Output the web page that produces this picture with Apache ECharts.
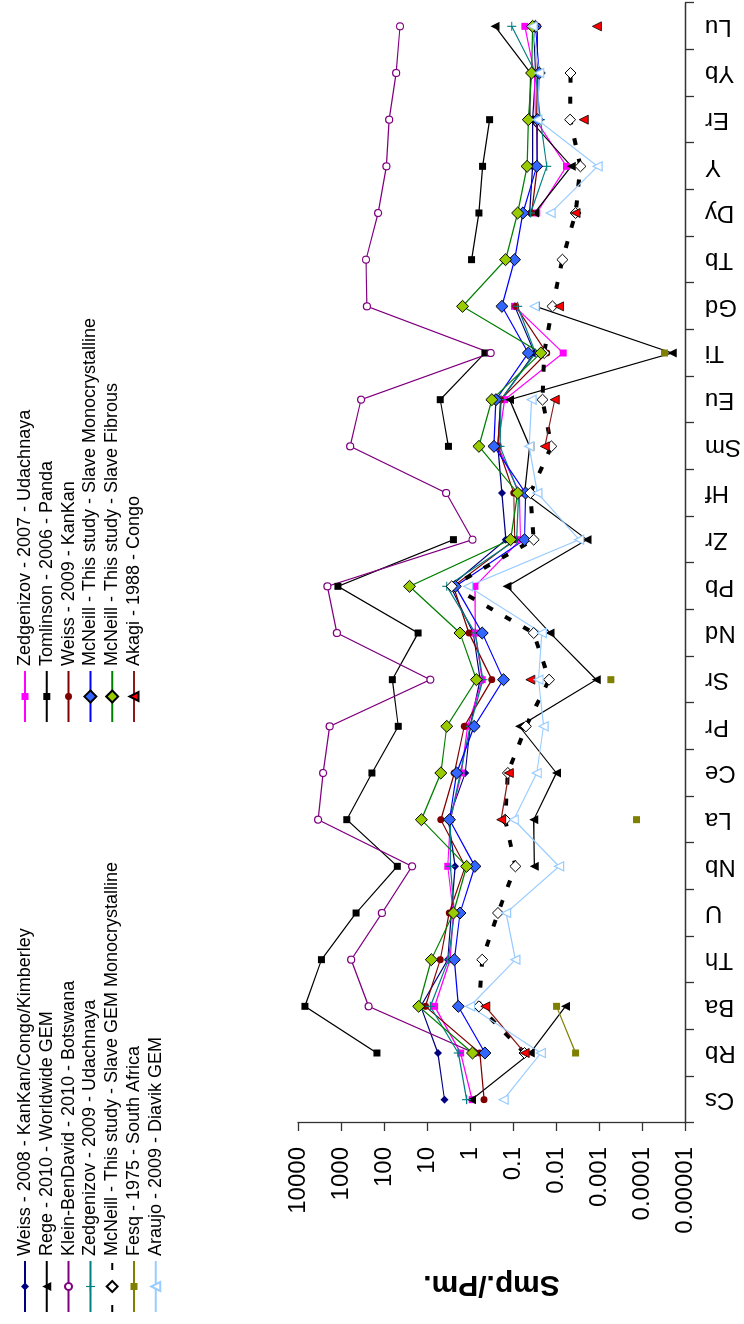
<!DOCTYPE html>
<html>
<head>
<meta charset="utf-8">
<script src="https://cdn.jsdelivr.net/npm/echarts@6/dist/echarts.min.js"></script>
<style>
html,body{margin:0;padding:0;background:#fff;overflow:hidden;width:744px;height:1324px;}
#chart{position:absolute;left:0;top:0;width:1324px;height:744px;transform-origin:0 0;transform:translate(0,1324px) rotate(-90deg);}
</style>
</head>
<body>
<div id="chart"></div>
<script>
const categories = ['Cs','Rb','Ba','Th','U','Nb','La','Ce','Pr','Sr','Nd','Pb','Zr','Hf','Sm','Eu','Ti','Gd','Tb','Dy','Y','Er','Yb','Lu'];
const tickLabels = ['0.00001','0.0001','0.001','0.01','0.1','1','10','100','1000','10000'];

const weiss2008 = [3.92, 5.58, 14.0, 3.29, 2.70, 2.22, 3.17, 1.29, 0.99, 0.58, 0.84, 2.85, 0.147, 0.181, 0.224, 0.191, 0.0315, 0.091, null, 0.041, 0.035, 0.035, 0.030, 0.033];
const rege2010 = [0.92, 0.0395, 0.0060, null, null, 0.032, 0.033, 0.0098, 0.071, 0.00116, 0.0137, 0.137, 0.0019, 0.0535, 0.041, 0.12, 0.0000199, 0.030, null, 0.0315, 0.0044, 0.041, 0.039, 0.262];
const kleinBenDavid2010 = [null, 0.80, 228, 581, 112, 22.2, 3410, 2615, 1834, 8.36, 1245, 2072, 0.875, 3.58, 612, 342, 0.33, 249, 262, 137, 88, 76, 52, 42.5];
const zedgenizov2009 = [1.20, 1.87, 8.36, 3.17, 2.31, 2.85, 2.85, 1.68, 0.99, 0.50, 0.76, 3.47, 0.082, 0.074, 0.20, 0.19, 0.030, 0.078, null, 0.039, 0.0164, 0.023, 0.030, 0.107];
const mcneillGemMono = [null, 0.054, 0.62, 0.52, 0.224, 0.088, 0.152, 0.132, 0.050, 0.0145, 0.033, 2.66, 0.033, 0.0395, 0.0128, 0.0206, 0.0188, 0.0121, 0.0071, 0.0035, 0.0027, 0.0047, 0.0046, null];
const fesq1975 = [null, 0.0035, 0.0097, null, null, null, 0.000134, null, null, 0.00053, null, null, null, null, null, null, 0.0000299, null, null, null, null, null, null, null];
const araujo2009 = [0.166, 0.0225, 1.0, 0.088, 0.144, 0.0085, 0.096, 0.028, 0.0195, 0.0255, 0.0214, 1.10, 0.0029, 0.027, 0.042, 0.037, null, 0.0315, null, 0.0133, 0.00108, 0.027, 0.0245, 0.035];
const zedgenizov2007 = [0.89, 1.65, 6.65, 2.90, 2.43, 3.29, 2.85, 1.59, 1.14, 0.52, 0.75, 0.77, 0.067, 0.071, 0.224, 0.157, 0.0068, 0.092, null, 0.028, 0.0057, 0.030, 0.032, 0.053];
const tomlinson2006 = [null, 146, 6900, 2850, 446, 49, 733, 191, 46.6, 64, 16.1, 1180, 2.43, null, 3.17, 4.92, 0.45, null, 0.92, 0.62, 0.51, 0.35, null, null];
const weiss2009 = [0.47, 0.59, 10.9, 4.92, 3.05, 1.29, 4.77, 2.31, 1.36, 0.31, 1.06, 2.43, 0.091, 0.096, 0.224, 0.194, 0.0164, 0.086, null, 0.037, 0.027, 0.0283, 0.027, 0.027];
const mcneillMono = [null, 0.45, 1.87, 2.31, 1.71, 0.77, 3.0, 2.04, 0.80, 0.166, 0.52, 2.19, 0.054, 0.051, 0.277, 0.249, 0.044, 0.181, 0.092, 0.059, 0.028, 0.027, 0.0245, 0.030];
const mcneillFibrous = [null, 0.875, 15.6, 7.93, 2.43, 1.20, 13.5, 4.77, 3.47, 0.71, 1.71, 25.5, 0.114, 0.078, 0.62, 0.31, 0.0225, 1.49, 0.149, 0.078, 0.047, 0.044, 0.037, 0.035];
const akagi1988 = [null, 0.0535, 0.44, null, null, null, 0.188, 0.125, null, 0.0395, null, null, null, null, 0.0182, 0.0107, null, 0.0085, null, 0.0035, null, 0.00226, null, 0.00112];

const N = {
  w08: 'Weiss - 2008 - KanKan/Congo/Kimberley',
  rege: 'Rege - 2010 - Worldwide GEM',
  klein: 'Klein-BenDavid - 2010 - Botswana',
  z09: 'Zedgenizov - 2009 - Udachnaya',
  gem: 'McNeill - This study - Slave GEM Monocrystalline',
  fesq: 'Fesq - 1975 - South Africa',
  araujo: 'Araujo - 2009 - Diavik GEM',
  z07: 'Zedgenizov - 2007 - Udachnaya',
  toml: 'Tomlinson - 2006 - Panda',
  w09: 'Weiss - 2009 - KanKan',
  mono: 'McNeill - This study - Slave Monocrystalline',
  fib: 'McNeill - This study - Slave Fibrous',
  akagi: 'Akagi - 1988 - Congo'
};
const legendCol1 = [N.w08, N.rege, N.klein, N.z09, N.gem, N.fesq, N.araujo];
const legendCol2 = [N.z07, N.toml, N.w09, N.mono, N.fib, N.akagi];

const FONT = '"Liberation Sans", Arial, sans-serif';
const PLUS = 'path://M3.5,0H4.5V3.5H8V4.5H4.5V8H3.5V4.5H0V3.5H3.5Z';
const symbolSizes = {};

function mk(name, data, lineColor, symbol, size, fill, border, bw, lineExtra) {
  symbolSizes[name] = size;
  return {
    name: name, type: 'line', data: data,
    symbol: symbol, symbolSize: size, showAllSymbol: true,
    connectNulls: false,
    lineStyle: Object.assign({color: lineColor, width: 1.2}, lineExtra || {}),
    itemStyle: {color: fill, borderColor: border, borderWidth: bw},
    emphasis: {disabled: true}
  };
}

const series = [
  mk(N.w08, weiss2008, '#000080', 'diamond', 8, '#000080', '#000080', 0),
  mk(N.z07, zedgenizov2007, '#FF00FF', 'rect', 7, '#FF00FF', '#FF00FF', 0),
  mk(N.rege, rege2010, '#000000', 'triangle', 9, '#000000', '#000000', 0),
  mk(N.toml, tomlinson2006, '#000000', 'rect', 7, '#000000', '#000000', 0),
  mk(N.klein, kleinBenDavid2010, '#800080', 'circle', 7, '#ffffff', '#800080', 1.2),
  mk(N.w09, weiss2009, '#800000', 'circle', 7, '#800000', '#800000', 0),
  mk(N.z09, zedgenizov2009, '#008080', PLUS, 9, '#008080', '#008080', 0),
  mk(N.mono, mcneillMono, '#0000FF', 'diamond', 12, '#3366FF', '#000000', 1),
  mk(N.gem, mcneillGemMono, '#000000', 'diamond', 11, '#ffffff', '#000000', 1, {width: 4, type: [7, 14], cap: 'butt'}),
  mk(N.fib, mcneillFibrous, '#008000', 'diamond', 12, '#99CC00', '#000000', 1),
  mk(N.fesq, fesq1975, '#808000', 'rect', 7, '#808000', '#808000', 0),
  mk(N.akagi, akagi1988, '#8B1A1A', 'triangle', 9, '#FF0000', '#000000', 0.8),
  mk(N.araujo, araujo2009, '#99CCFF', 'triangle', 9, '#ffffff', '#99CCFF', 1.2)
];

// one legend component per entry so each legend marker keeps the size of its series marker
const legends = [];
function addLegendColumn(names, left) {
  names.forEach(function (nm, i) {
    const center = 20 + i * 21.8;
    legends.push({
      orient: 'vertical', left: left, top: center - 9,
      itemWidth: 51, itemHeight: symbolSizes[nm] / 0.8, itemGap: 0,
      selectedMode: false,
      textStyle: {fontSize: 18, fontFamily: FONT, color: '#000'},
      data: [nm]
    });
  });
}
addLegendColumn(legendCol1, 6);
addLegendColumn(legendCol2, 596);

const chart = echarts.init(document.getElementById('chart'), null, {renderer: 'canvas', width: 1324, height: 744});
chart.setOption({
  animation: false,
  backgroundColor: '#ffffff',
  textStyle: {fontFamily: FONT},
  legend: legends,
  grid: {left: 201, right: 3, top: 298, bottom: 55, containLabel: false},
  xAxis: {
    type: 'category', data: categories, boundaryGap: true,
    axisLine: {lineStyle: {color: '#333', width: 1.3}},
    axisTick: {show: true, interval: 0, length: 9, lineStyle: {color: '#333', width: 1.3}},
    axisLabel: {rotate: 90, interval: 0, fontSize: 24, margin: 20, color: '#000', fontFamily: FONT},
    splitLine: {show: false}
  },
  yAxis: {
    type: 'log', logBase: 10, min: 0.00001, max: 10000,
    name: 'Smp./Pm.', nameLocation: 'middle', nameRotate: 90, nameGap: 146,
    nameTextStyle: {fontSize: 30, fontWeight: 'bold', color: '#000', fontFamily: FONT},
    axisLine: {show: true, lineStyle: {color: '#333', width: 1.3}},
    axisTick: {show: true, length: 8, lineStyle: {color: '#333', width: 1.3}},
    axisLabel: {
      fontSize: 24, margin: 24, color: '#000', fontFamily: FONT,
      formatter: function (v) { const i = Math.round(Math.log10(v)) + 5; return tickLabels[i] !== undefined ? tickLabels[i] : ''; }
    },
    splitLine: {show: false},
    minorTick: {show: false}
  },
  series: series
});
</script>
</body>
</html>
